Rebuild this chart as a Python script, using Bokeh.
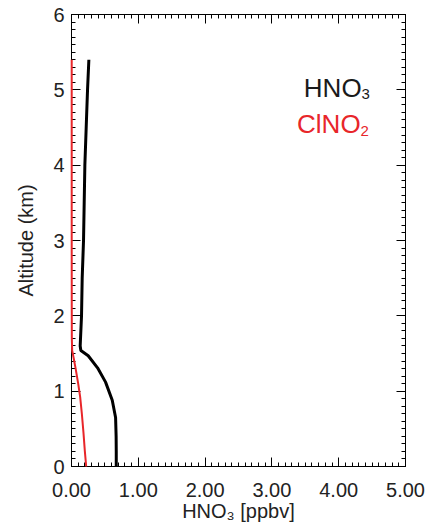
from bokeh.plotting import figure
from bokeh.models import Range1d, LinearAxis, SingleIntervalTicker, Label, PrintfTickFormatter
from bokeh.embed import file_html
from bokeh.resources import INLINE

# Data
alt_hno3 = [0.0, 0.2, 0.4, 0.65, 0.88, 1.12, 1.31, 1.47, 1.54, 1.6, 2.0, 2.5, 3.0, 3.5, 4.0, 4.5, 5.0, 5.4]
hno3 = [0.67, 0.67, 0.668, 0.66, 0.61, 0.51, 0.39, 0.25, 0.14, 0.13, 0.15, 0.16, 0.18, 0.19, 0.20, 0.22, 0.24, 0.26]

alt_clno2 = [0.0, 0.2, 0.44, 0.7, 0.92, 1.1, 1.31, 1.45, 1.54, 1.7, 2.0, 3.0, 4.0, 5.0, 5.4]
clno2 = [0.22, 0.20, 0.18, 0.155, 0.13, 0.10, 0.06, 0.03, 0.01, 0.005, 0.004, 0.003, 0.003, 0.003, 0.003]

x_ticks_interval = 1
y_ticks_interval = 1
x_label = "HNO\u2083 [ppbv]"
y_label = "Altitude (km)"

FONT = "Liberation Sans"
RED = "#e8262a"

p = figure(width=429, height=531, output_backend="svg", toolbar_location=None,
           x_range=Range1d(0, 5), y_range=Range1d(0, 6),
           min_border_left=71, min_border_right=24, min_border_top=14, min_border_bottom=65,
           x_axis_label=x_label, y_axis_label=y_label)
p.grid.visible = False
p.outline_line_color = "black"
p.background_fill_color = "white"
p.border_fill_color = "white"

xt = SingleIntervalTicker(interval=x_ticks_interval, num_minor_ticks=10)
yt = SingleIntervalTicker(interval=y_ticks_interval, num_minor_ticks=10)

def style(ax, labels=True):
    ax.axis_line_color = "black"
    ax.axis_line_width = 1
    ax.major_tick_in = 9
    ax.major_tick_out = 0
    ax.minor_tick_in = 4
    ax.minor_tick_out = 0
    ax.major_tick_line_color = "black"
    ax.minor_tick_line_color = "black"
    ax.major_label_text_font = FONT
    ax.axis_label_text_font = FONT
    ax.axis_label_text_font_style = "normal"
    ax.axis_label_text_color = "#222222"
    ax.axis_label_text_font_size = "20px"
    if labels:
        ax.major_label_text_font_size = "20px"
        ax.major_label_text_color = "#222222"
    else:
        ax.major_label_text_font_size = "1px"
        ax.major_label_text_color = None
        ax.major_label_standoff = 0

xa = p.xaxis[0]
xa.ticker = xt
xa.formatter = PrintfTickFormatter(format="%.2f")
style(xa)
xa.major_label_standoff = 16
xa.axis_label_standoff = 0

ya = p.yaxis[0]
ya.ticker = yt
style(ya)
ya.major_label_standoff = 7
ya.axis_label_standoff = 13

top = LinearAxis(ticker=xt)
style(top, labels=False)
p.add_layout(top, "above")
right = LinearAxis(ticker=yt)
style(right, labels=False)
p.add_layout(right, "right")

p.line(hno3, alt_hno3, line_color="black", line_width=3)
r = p.line(clno2, alt_clno2, line_color=RED, line_width=2)
r.level = "overlay"

# legend texts
p.add_layout(Label(x=4.343, y=5.018, text="HNO", text_align="right", text_baseline="alphabetic",
                   text_font=FONT, text_font_size="26px", text_color="#1a1a1a"))
p.add_layout(Label(x=4.343, y=4.95, text="3", text_align="left", text_baseline="alphabetic",
                   text_font=FONT, text_font_size="15px", text_color="#1a1a1a"))
p.add_layout(Label(x=4.328, y=4.553, text="ClNO", text_align="right", text_baseline="alphabetic",
                   text_font=FONT, text_font_size="26px", text_color=RED))
p.add_layout(Label(x=4.328, y=4.447, text="2", text_align="left", text_baseline="alphabetic",
                   text_font=FONT, text_font_size="15px", text_color=RED))

open("out.html", "w").write(file_html(p, INLINE))
